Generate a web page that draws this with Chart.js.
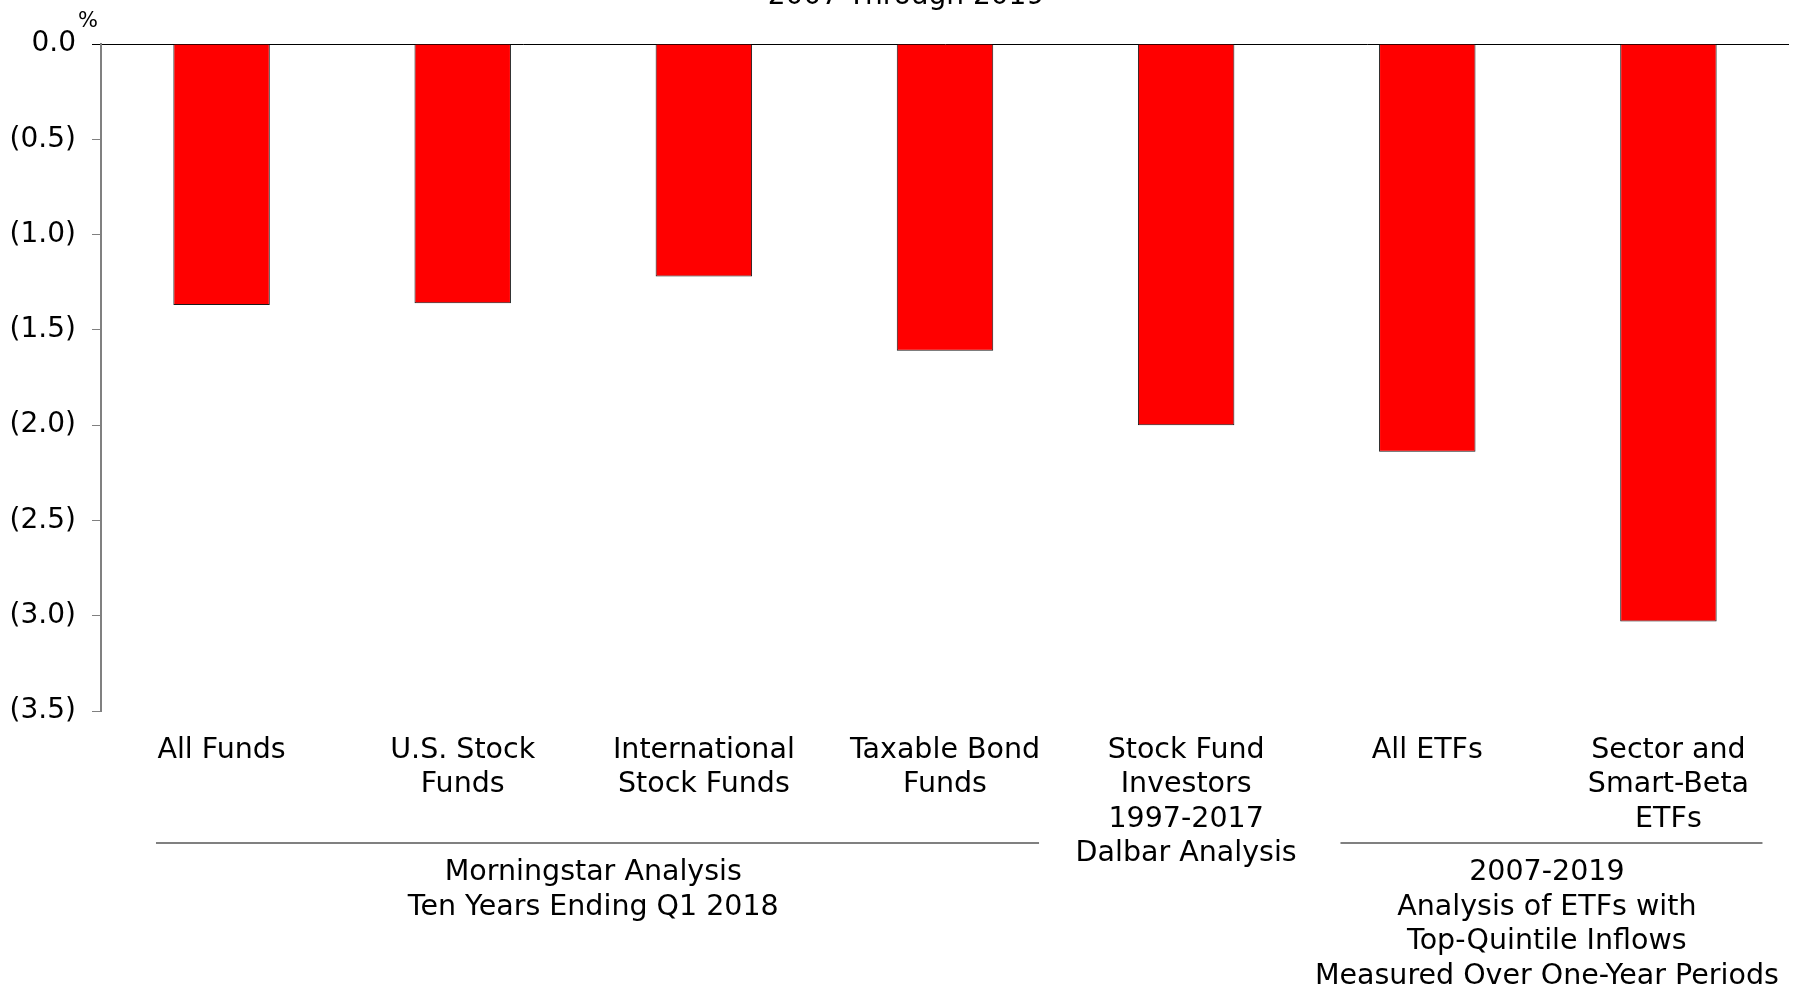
<!DOCTYPE html>
<html>
<head>
<meta charset="utf-8">
<script src="https://cdn.jsdelivr.net/npm/chart.js@4/dist/chart.umd.min.js"></script>
<style>
  html, body { margin: 0; padding: 0; background: #fff; }
  #wrap { width: 1798px; height: 990px; position: relative; }
</style>
</head>
<body>
<div id="wrap"><canvas id="gapChart"></canvas></div>
<script>
// categories (multi-line tick labels) and the return gap per category, in %
var categories = [
  ['All Funds'],
  ['U.S. Stock', 'Funds'],
  ['International', 'Stock Funds'],
  ['Taxable Bond', 'Funds'],
  ['Stock Fund', 'Investors', '1997-2017', 'Dalbar Analysis'],
  ['All ETFs'],
  ['Sector and', 'Smart-Beta', 'ETFs']
];
var gap_values = [-1.37, -1.36, -1.22, -1.61, -2.00, -2.14, -3.03];

// y axis range and step
var y_min = -3.5;
var y_max = 0;
var y_step = 0.5;

// bracket groups under the category labels
var group_labels = [
  ['Morningstar Analysis', 'Ten Years Ending Q1 2018'],
  ['2007-2019', 'Analysis of ETFs with', 'Top-Quintile Inflows', 'Measured Over One-Year Periods']
];
var group_first = [0, 5];
var group_last = [3, 6];

var chart_title = '2007 Through 2019';
var unit_label = '%';

var FONT = '"DejaVu Sans", Verdana, sans-serif';

function fmt_tick(v) {
  if (Math.abs(v) < 1e-9) return '0.0';
  if (v < 0) return '(' + Math.abs(v).toFixed(1) + ')';
  return v.toFixed(1);
}

// extra drawing: cut-off title line, unit mark, group brackets and notes
var extrasPlugin = {
  id: 'extras',
  afterDraw: function(chart) {
    var ctx = chart.ctx;
    var xs = chart.scales.x;
    var step = xs.getPixelForValue(1) - xs.getPixelForValue(0);
    // bracket overhang past the first / last category centre, in steps
    var lead = [0.272, 0.36];
    var tail = [0.39, 0.39];
    var shift = [10, -1];
    ctx.save();
    ctx.fillStyle = '#000';
    ctx.textAlign = 'center';
    ctx.textBaseline = 'alphabetic';

    ctx.font = '28px ' + FONT;
    ctx.fillText(chart_title, 906, 4);

    ctx.font = '21px ' + FONT;
    ctx.fillText(unit_label, 88, 27);

    var lineY = 843;
    for (var g = 0; g < group_labels.length; g++) {
      var c0 = xs.getPixelForValue(group_first[g]);
      var c1 = xs.getPixelForValue(group_last[g]);
      ctx.strokeStyle = '#808080';
      ctx.lineWidth = 2;
      ctx.beginPath();
      ctx.moveTo(c0 - step * lead[g], lineY);
      ctx.lineTo(c1 + step * tail[g], lineY);
      ctx.stroke();
      var cx = (c0 + c1) / 2 + shift[g];
      ctx.font = '28.5px ' + FONT;
      for (var i = 0; i < group_labels[g].length; i++) {
        ctx.fillText(group_labels[g][i], cx, 880 + i * 34.5);
      }
    }
    ctx.restore();
  }
};

var chart = new Chart(document.getElementById('gapChart'), {
  type: 'bar',
  data: {
    labels: categories,
    datasets: [{
      data: gap_values,
      backgroundColor: '#ff0000',
      borderColor: '#1a1a1a',
      borderWidth: 1,
      barPercentage: 0.4,
      categoryPercentage: 1.0
    }]
  },
  options: {
    responsive: true,
    maintainAspectRatio: false,
    animation: false,
    layout: { padding: { top: 44, right: 9, left: 0, bottom: 0 } },
    plugins: {
      legend: { display: false },
      tooltip: { enabled: false }
    },
    scales: {
      x: {
        grid: { display: false, drawTicks: false },
        border: { display: false },
        ticks: {
          color: '#000',
          font: { family: FONT, size: 28.5, lineHeight: 1.21 },
          padding: 22,
          maxRotation: 0,
          autoSkip: false
        },
        afterFit: function(scale) { scale.height = 279; }
      },
      y: {
        min: y_min,
        max: y_max,
        border: { display: true, color: '#808080', width: 2 },
        grid: {
          drawOnChartArea: true,
          color: function(c) { return c.tick && Math.abs(c.tick.value) < 1e-9 ? '#000' : 'rgba(0,0,0,0)'; },
          tickColor: function(c) { return c.tick && Math.abs(c.tick.value) < 1e-9 ? '#000' : '#808080'; },
          tickLength: 9,
          lineWidth: 1
        },
        ticks: {
          stepSize: y_step,
          color: '#000',
          padding: 16,
          font: { family: FONT, size: 28 },
          callback: function(v) { return fmt_tick(v); }
        },
        afterFit: function(scale) { scale.width = 101; }
      }
    }
  },
  plugins: [extrasPlugin]
});
</script>
</body>
</html>
